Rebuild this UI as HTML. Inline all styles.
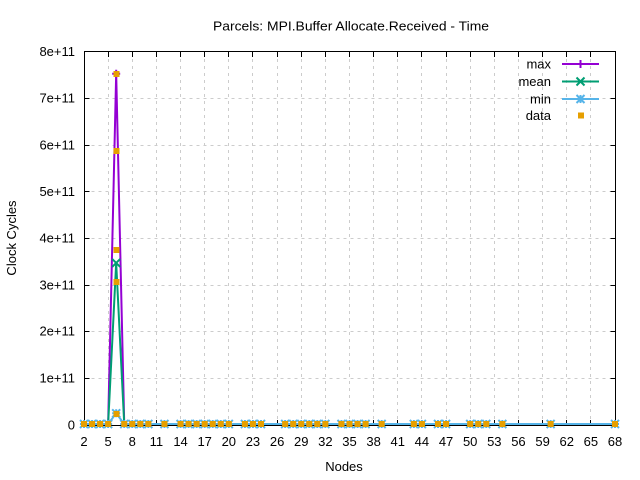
<!DOCTYPE html>
<html><head><meta charset="utf-8"><style>
html,body{margin:0;padding:0;background:#fff;}
svg{display:block;}
text{font-family:"Liberation Sans",Arial,sans-serif;font-size:13px;fill:#000;}
</style></head><body>
<svg width="640" height="480" viewBox="0 0 640 480" xmlns="http://www.w3.org/2000/svg">
<defs>
<g id="mp"><path d="M-4,0H4M0,-4V4" stroke="#9400d3" stroke-width="2" fill="none"/></g>
<g id="mx"><path d="M-4,-4L4,4M4,-4L-4,4" stroke="#009e73" stroke-width="2" fill="none"/></g>
<g id="ms"><path d="M-4,0H4M0,-4V4M-4,-4L4,4M4,-4L-4,4" stroke="#56b4e9" stroke-width="2" fill="none"/></g>
<g id="md"><rect x="-3" y="-3" width="6" height="6" fill="#e69f00"/></g>
</defs>
<rect width="640" height="480" fill="#fff"/>
<!-- grid -->
<g stroke="#cccccc" stroke-width="1" stroke-dasharray="3,4" fill="none" shape-rendering="crispEdges">
<path d="M84.5,378.5H615M84.5,331.5H615M84.5,285.5H615M84.5,238.5H615M84.5,191.5H615M84.5,145.5H615M84.5,98.5H615"/>
<path d="M108.5,52V425M132.5,52V425M156.5,52V425M180.5,52V425M204.5,52V425M228.5,52V425M252.5,52V425M277.5,52V425M301.5,52V425M325.5,52V425M349.5,52V425M373.5,52V425M397.5,52V425M421.5,52V425M446.5,52V425M470.5,52V425M494.5,52V425M518.5,52V425M542.5,52V425M566.5,52V425M590.5,52V425"/>
</g>
<!-- border & ticks -->
<g stroke="#000" stroke-width="1" fill="none" shape-rendering="crispEdges">
<rect x="84.5" y="51.5" width="531" height="374"/>
<path d="M84.5,378.5h5M84.5,331.5h5M84.5,285.5h5M84.5,238.5h5M84.5,191.5h5M84.5,145.5h5M84.5,98.5h5"/>
<path d="M615.5,378.5h-5M615.5,331.5h-5M615.5,285.5h-5M615.5,238.5h-5M615.5,191.5h-5M615.5,145.5h-5M615.5,98.5h-5"/>
<path d="M108.5,425v-5M132.5,425v-5M156.5,425v-5M180.5,425v-5M204.5,425v-5M228.5,425v-5M252.5,425v-5M277.5,425v-5M301.5,425v-5M325.5,425v-5M349.5,425v-5M373.5,425v-5M397.5,425v-5M421.5,425v-5M446.5,425v-5M470.5,425v-5M494.5,425v-5M518.5,425v-5M542.5,425v-5M566.5,425v-5M590.5,425v-5"/>
<path d="M108.5,52v5M132.5,52v5M156.5,52v5M180.5,52v5M204.5,52v5M228.5,52v5M252.5,52v5M277.5,52v5M301.5,52v5M325.5,52v5M349.5,52v5M373.5,52v5M397.5,52v5M421.5,52v5M446.5,52v5M470.5,52v5M494.5,52v5M518.5,52v5M542.5,52v5M566.5,52v5M590.5,52v5"/>
</g>
<!-- series lines -->
<polyline fill="none" stroke="#9400d3" stroke-width="2" points="84,424 108.14,424 116.18,73.7 124.23,424 615,424"/>
<polyline fill="none" stroke="#009e73" stroke-width="2" points="84,424 108.14,424 116.18,262.9 124.23,424 615,424"/>
<polyline fill="none" stroke="#56b4e9" stroke-width="2" points="84,424 108.14,424 116.18,413.3 124.23,424 615,424"/>
<!-- max markers -->
<g>
<use href="#mp" x="116.18" y="73.7"/>
<use href="#mx" x="116.18" y="262.9"/>
</g>
<!-- min markers at baseline and peak -->
<g>
<use href="#ms" x="84" y="424"/><use href="#ms" x="92.05" y="424"/><use href="#ms" x="100.09" y="424"/><use href="#ms" x="108.14" y="424"/><use href="#ms" x="116.18" y="413.3"/><use href="#ms" x="124.23" y="424"/><use href="#ms" x="132.27" y="424"/><use href="#ms" x="140.32" y="424"/><use href="#ms" x="148.36" y="424"/><use href="#ms" x="164.45" y="424"/><use href="#ms" x="180.55" y="424"/><use href="#ms" x="188.59" y="424"/><use href="#ms" x="196.64" y="424"/><use href="#ms" x="204.68" y="424"/><use href="#ms" x="212.73" y="424"/><use href="#ms" x="220.77" y="424"/><use href="#ms" x="228.82" y="424"/><use href="#ms" x="244.91" y="424"/><use href="#ms" x="252.95" y="424"/><use href="#ms" x="261" y="424"/><use href="#ms" x="285.14" y="424"/><use href="#ms" x="293.18" y="424"/><use href="#ms" x="301.23" y="424"/><use href="#ms" x="309.27" y="424"/><use href="#ms" x="317.32" y="424"/><use href="#ms" x="325.36" y="424"/><use href="#ms" x="341.45" y="424"/><use href="#ms" x="349.5" y="424"/><use href="#ms" x="357.55" y="424"/><use href="#ms" x="365.59" y="424"/><use href="#ms" x="381.68" y="424"/><use href="#ms" x="413.86" y="424"/><use href="#ms" x="421.91" y="424"/><use href="#ms" x="438" y="424"/><use href="#ms" x="446.05" y="424"/><use href="#ms" x="470.18" y="424"/><use href="#ms" x="478.23" y="424"/><use href="#ms" x="486.27" y="424"/><use href="#ms" x="502.36" y="424"/><use href="#ms" x="550.64" y="424"/><use href="#ms" x="615" y="424"/>
</g>
<!-- data points -->
<g>
<use href="#md" x="84" y="424"/><use href="#md" x="92.05" y="424"/><use href="#md" x="100.09" y="424"/><use href="#md" x="108.14" y="424"/><use href="#md" x="124.23" y="424"/><use href="#md" x="132.27" y="424"/><use href="#md" x="140.32" y="424"/><use href="#md" x="148.36" y="424"/><use href="#md" x="164.45" y="424"/><use href="#md" x="180.55" y="424"/><use href="#md" x="188.59" y="424"/><use href="#md" x="196.64" y="424"/><use href="#md" x="204.68" y="424"/><use href="#md" x="212.73" y="424"/><use href="#md" x="220.77" y="424"/><use href="#md" x="228.82" y="424"/><use href="#md" x="244.91" y="424"/><use href="#md" x="252.95" y="424"/><use href="#md" x="261" y="424"/><use href="#md" x="285.14" y="424"/><use href="#md" x="293.18" y="424"/><use href="#md" x="301.23" y="424"/><use href="#md" x="309.27" y="424"/><use href="#md" x="317.32" y="424"/><use href="#md" x="325.36" y="424"/><use href="#md" x="341.45" y="424"/><use href="#md" x="349.5" y="424"/><use href="#md" x="357.55" y="424"/><use href="#md" x="365.59" y="424"/><use href="#md" x="381.68" y="424"/><use href="#md" x="413.86" y="424"/><use href="#md" x="421.91" y="424"/><use href="#md" x="438" y="424"/><use href="#md" x="446.05" y="424"/><use href="#md" x="470.18" y="424"/><use href="#md" x="478.23" y="424"/><use href="#md" x="486.27" y="424"/><use href="#md" x="502.36" y="424"/><use href="#md" x="550.64" y="424"/><use href="#md" x="615" y="424"/>
<use href="#md" x="116.5" y="74"/><use href="#md" x="116.5" y="151"/><use href="#md" x="116.5" y="250"/><use href="#md" x="116.5" y="282"/><use href="#md" x="116.5" y="414"/>
</g>
<!-- title & labels -->
<text x="351" y="30.5" text-anchor="middle" textLength="276" lengthAdjust="spacingAndGlyphs">Parcels: MPI.Buffer Allocate.Received - Time</text>
<text x="344" y="471" text-anchor="middle">Nodes</text>
<text transform="translate(16,238) rotate(-90)" text-anchor="middle">Clock Cycles</text>
<!-- y tick labels -->
<g text-anchor="end">
<text x="75" y="429.5">0</text>
<text x="75" y="382.5">1e+11</text>
<text x="75" y="335.5">2e+11</text>
<text x="75" y="289.5">3e+11</text>
<text x="75" y="242.5">4e+11</text>
<text x="75" y="196">5e+11</text>
<text x="75" y="149.5">6e+11</text>
<text x="75" y="102.5">7e+11</text>
<text x="75" y="56">8e+11</text>
</g>
<!-- x tick labels -->
<g text-anchor="middle">
<text x="84" y="446">2</text><text x="108.14" y="446">5</text><text x="132.27" y="446">8</text><text x="156.41" y="446">11</text><text x="180.55" y="446">14</text><text x="204.68" y="446">17</text><text x="228.82" y="446">20</text><text x="252.95" y="446">23</text><text x="277.09" y="446">26</text><text x="301.23" y="446">29</text><text x="325.36" y="446">32</text><text x="349.5" y="446">35</text><text x="373.64" y="446">38</text><text x="397.77" y="446">41</text><text x="421.91" y="446">44</text><text x="446.05" y="446">47</text><text x="470.18" y="446">50</text><text x="494.32" y="446">53</text><text x="518.45" y="446">56</text><text x="542.59" y="446">59</text><text x="566.73" y="446">62</text><text x="590.86" y="446">65</text><text x="615" y="446">68</text>
</g>
<!-- legend -->
<g text-anchor="end">
<text x="551" y="68.5">max</text>
<text x="551" y="86">mean</text>
<text x="551" y="103.5">min</text>
<text x="551" y="120">data</text>
</g>
<path d="M562,64H599" stroke="#9400d3" stroke-width="2"/><use href="#mp" x="580.5" y="64"/>
<path d="M562,81.5H599" stroke="#009e73" stroke-width="2"/><use href="#mx" x="580.5" y="81.5"/>
<path d="M562,99H599" stroke="#56b4e9" stroke-width="2"/><use href="#ms" x="580.5" y="99"/>
<use href="#md" x="581" y="115.5"/>
</svg>
</body></html>
